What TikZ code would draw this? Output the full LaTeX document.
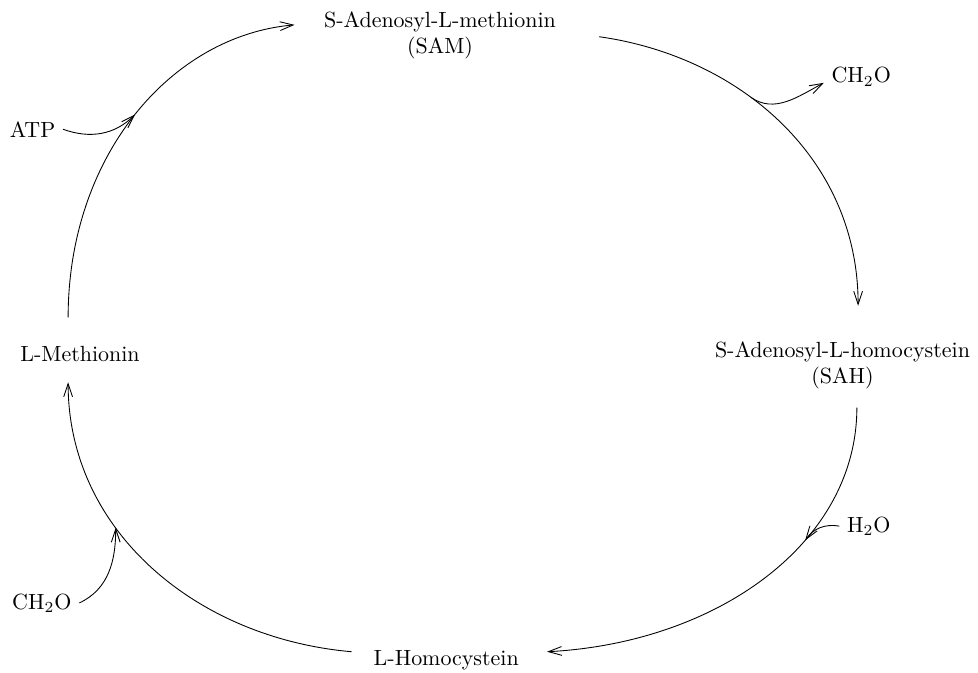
\documentclass[tikz,border=0pt]{standalone}
\usepackage{tikz}
\usetikzlibrary{arrows.meta}
\newcommand{\feed}[4]
{
	\draw[->] (#1) to[out=#3, in=#4] (#2)
}

\begin{document}
\begin{tikzpicture}[>={Straight Barb[length=6pt, width=4pt]},
every node/.append style={shape=rectangle, align=center},
line width=0.4pt]
\useasboundingbox (0, 0) rectangle (15.648, 10.768);

\node at (7.04, 10.20) (SAM){S-Adenosyl-L-methionin\\(SAM)};
\node at (13.48, 4.92) (SAH){S-Adenosyl-L-homocystein\\(SAH)};
\node at (7.14, 0.20) (HCY){L-Homocystein};
\node at (1.28, 5.10) (MET){L-Methionin};

\node at (0.52, 8.70) (ATP){ATP};
\node at (13.78, 9.54) (CH2Oa){CH$_2$O};
\node at (13.90, 2.35) (H2O){H$_2$O};
\node at (0.67, 1.12) (CH2Ob){CH$_2$O};

% cycle
\draw[->] ([shift={(-0.19,0.34)}]MET.north) to[out=90, in=185, out distance=2.59cm, in distance=1.98cm] coordinate[pos=0.5] (J1) ([shift={(-0.35,0.17)}]SAM.west);
\draw[->] ([shift={(0.57,-0.02)}]SAM.east) to[out=-8, in=90, out distance=2.26cm, in distance=2.37cm] coordinate[pos=0.4] (J2) ([shift={(0.25,0.45)}]SAH.north);
\draw[->] ([shift={(0.23,-0.17)}]SAH.south) to[out=-90, in=3, out distance=2.16cm, in distance=2.73cm] coordinate[pos=0.37] (J3) ([shift={(0.33,0.14)}]HCY.east);
\draw[->] ([shift={(-0.23,0.14)}]HCY.west) to[out=175, in=-90, out distance=2.49cm, in distance=2.38cm] coordinate[pos=0.63] (J4) ([shift={(-0.19,-0.20)}]MET.south);

% side reactions
\feed{ATP.east}{J1}{-20}{-135};
\feed{J2}{CH2Oa.base west}{-35}{-152};
\feed{H2O.west}{J3}{170}{55};
\feed{CH2Ob.east}{J4}{25}{-90};
\end{tikzpicture}
\end{document}
